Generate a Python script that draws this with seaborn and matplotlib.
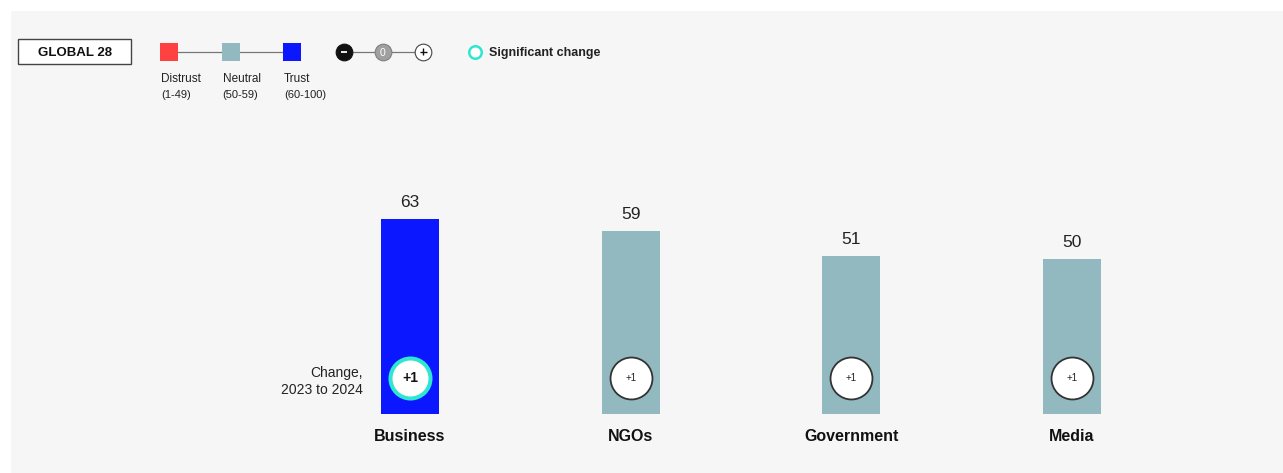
import matplotlib
matplotlib.use("Agg")
import matplotlib.pyplot as plt
from matplotlib.patches import Rectangle
import seaborn as sns
import pandas as pd

# Trust index by institution, Global 28
sectors = ["Business", "NGOs", "Government", "Media"]
trust = [63, 59, 51, 50]
change = ["+1", "+1", "+1", "+1"]
significant = [True, False, False, False]

legend_levels = ["Distrust", "Neutral", "Trust"]
legend_ranges = ["(1-49)", "(50-59)", "(60-100)"]

DISTRUST = "#ff4141"
NEUTRAL = "#93b9c0"
TRUST = "#0a17ff"
SIG = "#2fe6cf"
PANEL = "#f6f6f6"


def level_color(v):
    if v < 50:
        return DISTRUST
    if v < 60:
        return NEUTRAL
    return TRUST


sns.set_theme(style="white")
plt.rcParams["font.family"] = ["Liberation Sans", "DejaVu Sans"]

W, H = 1283, 473
fig = plt.figure(figsize=(W / 100, H / 100), dpi=100, facecolor="white")

# header / legend overlay in pixel coordinates, also carries the light panel
ov = fig.add_axes([0, 0, 1, 1], zorder=0)
ov.set_xlim(0, W)
ov.set_ylim(H, 0)
ov.axis("off")
ov.add_patch(Rectangle((11, 11), W - 11, H - 11, facecolor=PANEL,
                       edgecolor="none", zorder=0))

df = pd.DataFrame({"sector": sectors, "trust": trust})
palette = {s: level_color(v) for s, v in zip(sectors, trust)}

# bar axes: category 0 sits at x=410px, spacing ~220.7px; value 0 at y=414px, 3.1px/unit
left_px, right_px = 300, 1180
ax = fig.add_axes([left_px / W, (H - 414) / H, (right_px - left_px) / W, 310 / H],
                  zorder=2)
ax.patch.set_alpha(0)
sns.barplot(data=df, x="sector", y="trust", hue="sector", palette=palette,
            width=0.262, saturation=1, legend=False, linewidth=0,
            edgecolor="none", ax=ax)
ax.set_xlim(-(410 - left_px) / 220.67, 3 + (right_px - 1072) / 220.67)
ax.set_ylim(0, 100)
for s in ax.spines.values():
    s.set_visible(False)
ax.set_yticks([])
ax.set_xlabel("")
ax.set_ylabel("")
ax.tick_params(axis="x", length=0, pad=10.5)
for lbl in ax.get_xticklabels():
    lbl.set_fontsize(11.5)
    lbl.set_fontweight("bold")
    lbl.set_color("#111111")

# value labels above bars
for i, v in enumerate(trust):
    ax.annotate(str(v), (i, v), xytext=(0, 8.5), textcoords="offset points",
                ha="center", va="baseline", fontsize=12.5, color="#222222")

# change circles
circle_y = 11.7
for i, (c, sig) in enumerate(zip(change, significant)):
    if sig:
        ax.scatter([i], [circle_y], s=28.8 ** 2, facecolor="white",
                   edgecolor=SIG, linewidth=2.9, zorder=5)
        ax.text(i, circle_y, c, ha="center", va="center", fontsize=10,
                fontweight="bold", color="#111111", zorder=6)
    else:
        ax.scatter([i], [circle_y], s=30.2 ** 2, facecolor="white",
                   edgecolor="#333333", linewidth=1.3, zorder=5)
        ax.text(i, circle_y, c, ha="center", va="center", fontsize=7,
                color="#222222", zorder=6)

ax.text(-0.215, circle_y - 1.3, "Change,\n2023 to 2024", ha="right", va="center",
        fontsize=10, color="#222222", linespacing=1.25)

ov.add_patch(Rectangle((18, 39), 113, 25, facecolor="white",
                       edgecolor="#444444", linewidth=1.0, zorder=2))
ov.text(74.5, 52.5, "GLOBAL 28", ha="center", va="center", fontsize=9.5,
        fontweight="bold", color="#111111", zorder=3)

sq_x = [160, 221.5, 283]
sq_colors = [DISTRUST, NEUTRAL, TRUST]
ov.plot([169, 292], [52, 52], color="#777777", linewidth=0.9, zorder=1)
for x, col, name, rng in zip(sq_x, sq_colors, legend_levels, legend_ranges):
    ov.add_patch(Rectangle((x, 43), 18, 18, facecolor=col, edgecolor="none", zorder=2))
    ov.text(x + 1, 78.5, name, ha="left", va="center", fontsize=8.5, color="#222222")
    ov.text(x + 1, 95, rng, ha="left", va="center", fontsize=8, color="#222222")

ov.plot([344, 423], [52, 52], color="#777777", linewidth=0.9, zorder=1)
ov.scatter([344], [52], s=12 ** 2, facecolor="#111111", edgecolor="#111111",
           linewidth=0.8, zorder=3)
ov.plot([341, 347], [52.5, 52.5], color="white", linewidth=1.3, zorder=4,
        solid_capstyle="butt")
ov.scatter([383], [52], s=12 ** 2, facecolor="#a0a0a0", edgecolor="#808080",
           linewidth=0.8, zorder=3)
ov.text(383, 52.5, "0", ha="center", va="center", fontsize=7.5,
        color="white", zorder=4)
ov.scatter([423], [52], s=12 ** 2, facecolor="white", edgecolor="#444444",
           linewidth=0.8, zorder=3)
ov.plot([419.5, 426.5], [52, 52], color="#111111", linewidth=1.0, zorder=4,
        solid_capstyle="butt")
ov.plot([423, 423], [48.5, 55.5], color="#111111", linewidth=1.0, zorder=4,
        solid_capstyle="butt")

ov.scatter([475], [52.5], s=9 ** 2, facecolor="white", edgecolor=SIG,
           linewidth=1.8, zorder=3)
ov.text(489, 53, "Significant change", ha="left", va="center", fontsize=9,
        fontweight="bold", color="#222222", zorder=3)

fig.savefig("out.png", dpi=100, facecolor="white")
